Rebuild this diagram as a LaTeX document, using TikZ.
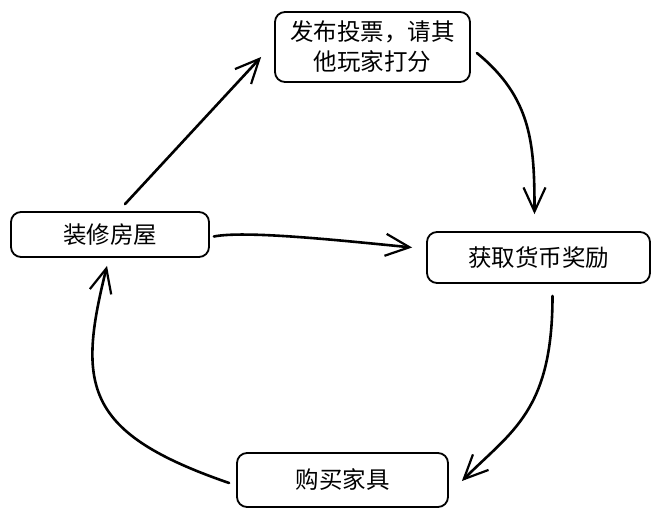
\documentclass[tikz,border=0pt]{standalone}
\usepackage{fontspec}
\setmainfont{Noto Sans CJK SC}
\usetikzlibrary{arrows.meta}

\begin{document}
\begin{tikzpicture}[x=1pt,y=-1pt,
  box/.style={draw,line width=1.8pt,rounded corners=10pt,inner sep=0pt,align=center,
    font=\fontsize{23.5}{30}\selectfont},
  arr/.style={line width=2.6pt,line cap=round,-{Straight Barb[length=24pt,width=22pt,line width=2.2pt]}}]
  \useasboundingbox (0,0) rectangle (660,518);

  \node[box,minimum width=195pt,minimum height=70pt] (vote) at (372.5,47) {发布投票，请其\\他玩家打分};
  \node[box,minimum width=198pt,minimum height=45pt] (decor) at (110,234.5) {装修房屋};
  \node[box,minimum width=223pt,minimum height=51pt] (coin) at (538.5,257.5) {获取货币奖励};
  \node[box,minimum width=211pt,minimum height=54pt] (buy) at (342.5,480) {购买家具};

  \draw[arr] ([xshift=15pt,yshift=7pt]decor.north) -- ([xshift=-13pt,yshift=-10pt]vote.west);
  \draw[arr] ([xshift=6pt,yshift=-6pt]vote.east) .. controls +(55,45) and +(0,-70) .. ([xshift=-4pt,yshift=17pt]coin.north);
  \draw[arr] ([xshift=4pt,yshift=-2pt]decor.east) .. controls +(30,-6) and +(-80,-8) .. ([xshift=-14pt,yshift=10pt]coin.west);
  \draw[arr] ([xshift=14pt,yshift=-12pt]coin.south) .. controls +(0,115) and +(50,-50) .. ([xshift=13pt,yshift=-1pt]buy.east);
  \draw[arr] ([xshift=-7pt,yshift=-3pt]buy.west) .. controls +(-145,-50) and +(-30,120) .. ([xshift=-3pt,yshift=-8pt]decor.south);
\end{tikzpicture}
\end{document}
